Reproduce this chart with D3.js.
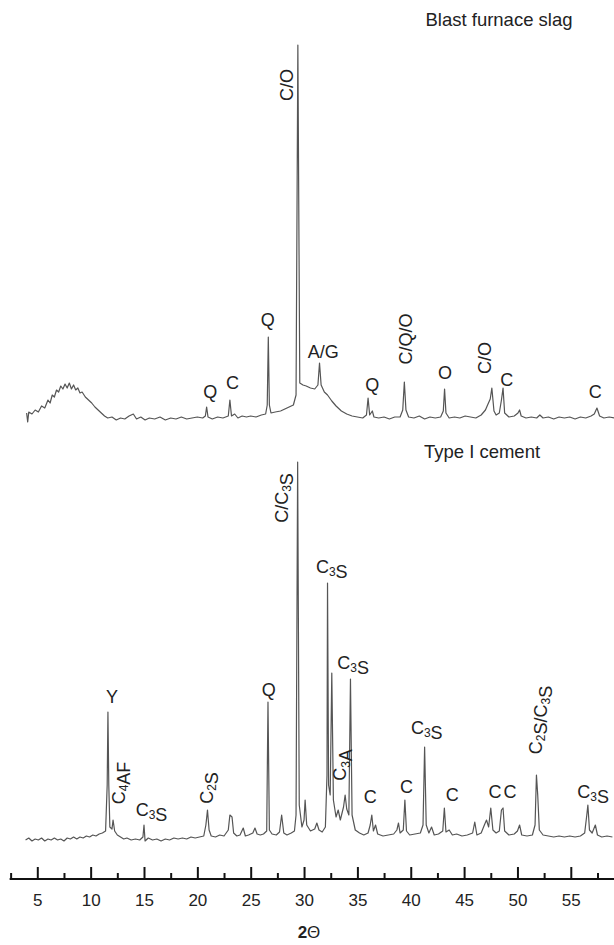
<!DOCTYPE html>
<html lang="en">
<head>
  <meta charset="UTF-8">
  <title>XRD patterns: blast furnace slag and Type I cement</title>
  <script src="https://d3js.org/d3.v7.min.js"></script>
  <style>
    body { margin: 0; padding: 0; background: #fff; font-family: "Liberation Sans", Arial, sans-serif; }
    svg { display: block; }
    .trace { fill: none; stroke: #555; stroke-width: 1.2; stroke-linejoin: round; }
    .lbl { font-size: 18px; fill: #222; }
    .title { font-size: 18.5px; fill: #222; }
    .axis text { font-size: 17px; fill: #222; font-family: "Liberation Sans", Arial, sans-serif; }
  </style>
</head>
<body>
<svg width="614" height="945"></svg>
<script>
// 2-theta / intensity pairs (arbitrary units)
const slagTrace = [[4.0,12],[4.1,3],[4.2,13],[4.5,11],[4.8,15],[5.1,13],[5.4,19],[5.7,17],[6.0,25],[6.2,22],[6.4,30],[6.6,28],[6.8,35],[7.0,33],[7.2,39],[7.4,36],[7.6,41],[7.8,37],[8.0,42],[8.2,36],[8.4,40],[8.6,35],[8.8,37],[9.0,32],[9.2,33],[9.5,28],[9.8,25],[10.1,22],[10.4,18],[10.7,15],[11.0,12],[11.3,9],[11.6,7],[12.0,8],[12.4,5],[12.8,7],[13.2,6],[13.6,9],[14.0,11],[14.3,6],[14.7,8],[15.1,5],[15.5,7],[16.0,6],[16.5,8],[17.0,5],[17.5,7],[18.0,6],[18.5,8],[19.0,6],[19.5,7],[20.0,8],[20.5,7],[20.75,9],[20.87,18],[21.0,8],[21.4,6],[21.9,8],[22.4,7],[22.9,9],[23.05,25],[23.2,9],[23.5,11],[23.8,7],[24.2,9],[24.6,8],[25.0,9],[25.5,8],[26.0,10],[26.4,11],[26.55,20],[26.65,88],[26.75,20],[26.9,12],[27.3,13],[27.8,14],[28.2,16],[28.6,18],[29.0,20],[29.25,30],[29.42,380],[29.6,42],[29.9,40],[30.2,39],[30.6,37],[31.0,36],[31.3,40],[31.45,62],[31.6,40],[31.9,33],[32.2,30],[32.6,24],[33.0,19],[33.5,14],[34.0,11],[34.5,9],[35.0,8],[35.5,7],[35.85,10],[36.0,27],[36.15,10],[36.4,14],[36.55,8],[37.0,7],[37.5,8],[38.0,6],[38.5,8],[39.0,8],[39.25,15],[39.4,43],[39.55,15],[39.8,8],[40.3,7],[40.8,9],[41.3,6],[41.8,8],[42.3,7],[42.8,8],[43.05,14],[43.17,36],[43.3,12],[43.6,7],[44.1,8],[44.6,7],[45.1,9],[45.6,8],[46.1,7],[46.6,10],[47.0,15],[47.2,20],[47.45,26],[47.6,37],[47.8,14],[48.0,10],[48.3,12],[48.5,25],[48.65,37],[48.8,12],[49.2,8],[49.7,9],[50.05,12],[50.2,15],[50.35,9],[50.8,7],[51.3,8],[51.8,7],[52.1,10],[52.4,7],[52.9,8],[53.4,6],[53.9,8],[54.4,7],[54.9,8],[55.4,6],[55.9,8],[56.4,7],[56.9,9],[57.2,11],[57.45,17],[57.7,9],[58.1,7],[58.6,8],[59.1,7]];

const cementTrace = [[3.9,5],[4.2,7],[4.5,4],[4.8,6],[5.1,5],[5.4,7],[5.7,4],[6.0,6],[6.3,5],[6.6,7],[6.9,5],[7.2,6],[7.5,4],[7.8,7],[8.1,6],[8.4,8],[8.7,6],[9.0,8],[9.3,7],[9.6,9],[9.9,8],[10.2,10],[10.5,9],[10.8,11],[11.1,12],[11.4,14],[11.55,60],[11.62,133],[11.7,60],[11.8,18],[12.0,16],[12.1,25],[12.25,14],[12.5,10],[12.8,8],[13.1,6],[13.4,7],[13.8,5],[14.2,6],[14.6,5],[14.9,8],[15.0,20],[15.1,4],[15.4,7],[15.8,5],[16.2,6],[16.6,4],[17.0,6],[17.4,5],[17.8,7],[18.2,6],[18.6,7],[19.0,6],[19.4,8],[19.8,7],[20.2,8],[20.6,9],[20.8,20],[20.95,35],[21.1,15],[21.3,9],[21.7,8],[22.1,10],[22.5,9],[22.9,15],[23.05,30],[23.25,28],[23.4,12],[23.7,9],[24.0,10],[24.3,17],[24.5,9],[24.8,10],[25.2,12],[25.4,17],[25.6,11],[25.9,10],[26.2,11],[26.5,14],[26.62,143],[26.75,15],[27.0,11],[27.4,10],[27.7,13],[27.9,30],[28.1,12],[28.4,10],[28.8,12],[29.1,14],[29.25,30],[29.4,383],[29.55,40],[29.8,18],[30.0,25],[30.1,45],[30.25,20],[30.6,14],[31.0,16],[31.2,22],[31.4,15],[31.7,13],[32.0,18],[32.15,70],[32.2,262],[32.3,60],[32.45,50],[32.6,172],[32.75,45],[33.0,28],[33.2,35],[33.4,25],[33.7,38],[33.85,50],[34.0,36],[34.2,30],[34.35,166],[34.5,30],[34.8,15],[35.2,12],[35.6,10],[36.0,12],[36.2,20],[36.35,30],[36.5,14],[36.7,20],[36.9,11],[37.4,9],[37.9,10],[38.4,11],[38.7,15],[38.85,22],[39.0,12],[39.3,15],[39.45,45],[39.6,14],[39.9,10],[40.4,11],[40.9,12],[41.15,20],[41.3,98],[41.45,20],[41.7,12],[41.95,18],[42.2,10],[42.6,11],[43.0,14],[43.15,37],[43.3,13],[43.6,15],[43.9,10],[44.3,11],[44.8,9],[45.3,10],[45.8,12],[46.0,23],[46.2,10],[46.6,12],[46.9,20],[47.1,25],[47.3,18],[47.5,37],[47.7,15],[48.0,12],[48.3,14],[48.5,35],[48.65,37],[48.8,14],[49.2,10],[49.7,11],[50.0,14],[50.2,20],[50.4,10],[50.9,9],[51.4,10],[51.65,20],[51.78,70],[51.9,50],[52.05,15],[52.4,10],[52.9,9],[53.4,8],[53.9,9],[54.4,8],[54.9,9],[55.4,8],[55.9,9],[56.3,12],[56.5,30],[56.6,40],[56.75,15],[57.0,12],[57.3,20],[57.5,10],[57.9,8],[58.4,9],[58.9,8]];

// phase labels: [text, 2-theta, intensity, rotated]  ("_3" = subscript 3)
const slagLabels = [
  ["C/O", 28.4, 340, true],
  ["Q", 26.6, 105, false],
  ["Q", 21.2, 33, false],
  ["C", 23.3, 42, false],
  ["A/G", 31.8, 73, false],
  ["Q", 36.4, 40, false],
  ["C/Q/O", 39.6, 86, true],
  ["O", 43.2, 52, false],
  ["C/O", 47.0, 67, true],
  ["C", 49.0, 45, false],
  ["C", 57.3, 33, false]
];

const cementLabels = [
  ["C/C_3S", 27.9, 347, true],
  ["C_3S", 32.6, 278, false],
  ["C_3S", 34.6, 182, false],
  ["Y", 12.0, 148, false],
  ["Q", 26.7, 155, false],
  ["C_4AF", 12.66, 62, true],
  ["C_3S", 15.7, 35, false],
  ["C_2S", 20.9, 57, true],
  ["C_3A", 33.4, 80, true],
  ["C", 36.2, 48, false],
  ["C", 39.6, 58, false],
  ["C_3S", 41.5, 117, false],
  ["C", 43.9, 50, false],
  ["C", 47.9, 53, false],
  ["C", 49.3, 53, false],
  ["C_2S/C_3S", 51.7, 125, true],
  ["C_3S", 57.1, 53, false]
];

const majorTicks = [5, 10, 15, 20, 25, 30, 35, 40, 45, 50, 55];
const minorTicks = [2.5, 7.5, 12.5, 17.5, 22.5, 27.5, 32.5, 37.5, 42.5, 47.5, 52.5, 57.5];

const svg = d3.select("svg");

const x = d3.scaleLinear().domain([5, 55]).range([37.3, 570.8]);
const yTop = d3.scaleLinear().domain([0, 380]).range([425, 45]);
const yBot = d3.scaleLinear().domain([0, 383]).range([845, 462]);

function drawTrace(data, y) {
  svg.append("path")
    .datum(data)
    .attr("class", "trace")
    .attr("d", d3.line().x(d => x(d[0])).y(d => y(d[1])));
}
drawTrace(slagTrace, yTop);
drawTrace(cementTrace, yBot);

function drawLabels(labels, y) {
  labels.forEach(([t, tx, ty, rot]) => {
    const px = x(tx), py = y(ty);
    const txt = svg.append("text")
      .attr("class", "lbl")
      .attr("text-anchor", "middle")
      .attr("dominant-baseline", "central")
      .attr("transform", rot ? `translate(${px},${py}) rotate(-90)` : `translate(${px},${py})`);
    t.split(/_(\d)/).forEach((part, i) => {
      if (!part) return;
      if (i % 2 === 1) {
        txt.append("tspan").attr("font-size", "12px").attr("dy", "0.45em").text(part);
        txt.append("tspan").attr("dy", "-0.45em").text("");
      } else {
        txt.append("tspan").text(part);
      }
    });
  });
}
drawLabels(slagLabels, yTop);
drawLabels(cementLabels, yBot);

svg.append("text").attr("class", "title")
  .attr("x", 499).attr("y", 26).attr("text-anchor", "middle")
  .text("Blast furnace slag");
svg.append("text").attr("class", "title")
  .attr("x", 482).attr("y", 458).attr("text-anchor", "middle")
  .text("Type I cement");

// x axis with ticks pointing upward
const axisY = 879;
const gAxis = svg.append("g").attr("class", "axis").attr("transform", `translate(0,${axisY})`);
gAxis.append("g")
  .call(d3.axisBottom(x).tickValues(majorTicks).tickSizeInner(-12).tickSizeOuter(0).tickPadding(15))
  .call(g => g.select(".domain").remove())
  .call(g => g.selectAll("line").attr("stroke", "#111").attr("stroke-width", 2));
gAxis.append("g")
  .call(d3.axisBottom(x).tickValues(minorTicks).tickSizeInner(-6).tickSizeOuter(0).tickFormat(""))
  .call(g => g.select(".domain").remove())
  .call(g => g.selectAll("line").attr("stroke", "#111").attr("stroke-width", 2));
gAxis.append("line")
  .attr("x1", x(2.5) - 1).attr("x2", 614)
  .attr("stroke", "#111").attr("stroke-width", 2);

const xt = svg.append("text")
  .attr("x", 309).attr("y", 938)
  .attr("text-anchor", "middle")
  .style("font-size", "17px").style("fill", "#222");
xt.append("tspan").attr("font-weight", "bold").text("2");
xt.append("tspan").text("\u0398");
</script>
</body>
</html>
